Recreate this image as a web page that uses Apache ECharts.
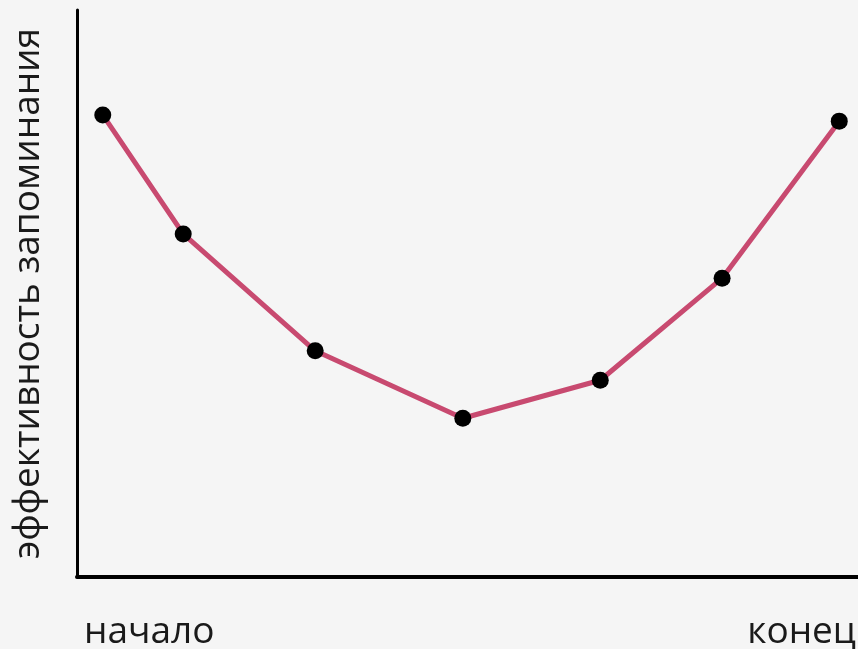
<!DOCTYPE html>
<html>
<head>
<meta charset="utf-8">
<script src="https://cdn.jsdelivr.net/npm/echarts@6/dist/echarts.min.js"></script>
<style>
html,body{margin:0;padding:0;background:#f5f5f5;}
#c{width:858px;height:649px;}
</style>
</head>
<body>
<div id="c"></div>
<script>
const xPositions = [3.3, 13.6, 30.5, 49.4, 67.0, 82.6, 97.6];
const effectiveness = [81.5, 60.5, 39.9, 28.0, 34.7, 52.7, 80.4];
const startLabel = 'начало';
const endLabel = 'конец';
const yAxisTitle = 'эффективность запоминания';

const chart = echarts.init(document.getElementById('c'));
chart.setOption({
  backgroundColor: '#f5f5f5',
  animation: false,
  grid: {left: 77, right: 0, top: 10, bottom: 72, containLabel: false, outerBoundsMode: 'none'},
  xAxis: {
    type: 'value', min: 0, max: 100,
    axisLine: {show: true, onZero: false, lineStyle: {color: '#000', width: 4}},
    axisTick: {show: false}, axisLabel: {show: false}, splitLine: {show: false}
  },
  yAxis: {
    type: 'value', min: 0, max: 100,
    name: yAxisTitle, nameLocation: 'middle', nameRotate: 90, nameGap: 30,
    nameTextStyle: {fontFamily: 'Open Sans', fontSize: 37, color: '#1a1a1a'},
    axisLine: {show: true, lineStyle: {color: '#000', width: 3}},
    axisTick: {show: false}, axisLabel: {show: false}, splitLine: {show: false}
  },
  graphic: [
    {type: 'text', x: 84, y: 632, style: {text: startLabel, font: '37px "Open Sans"', fill: '#1a1a1a', verticalAlign: 'middle', align: 'left'}},
    {type: 'text', x: 856, y: 632, style: {text: endLabel, font: '37px "Open Sans"', fill: '#1a1a1a', verticalAlign: 'middle', align: 'right'}}
  ],
  series: [{
    type: 'line',
    data: xPositions.map((x, i) => [x, effectiveness[i]]),
    symbol: 'circle', symbolSize: 17,
    itemStyle: {color: '#000'},
    lineStyle: {color: '#c84a70', width: 5},
    z: 3
  }]
});
</script>
</body>
</html>
